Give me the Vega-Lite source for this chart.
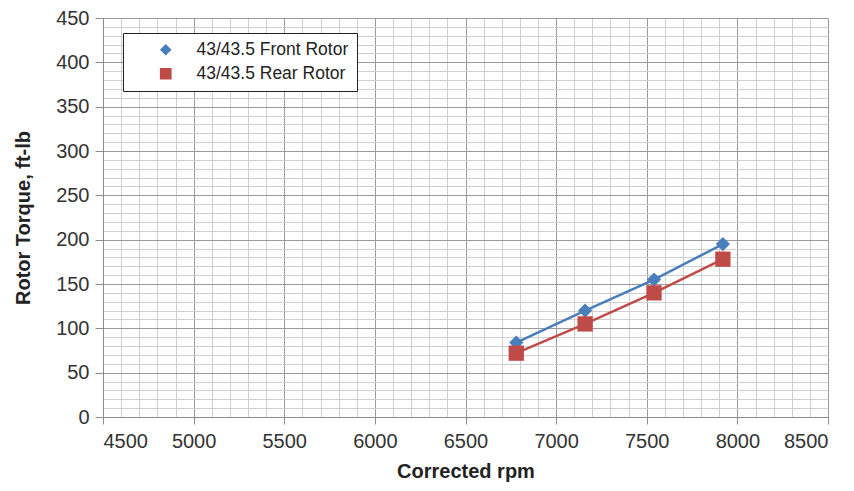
{
  "$schema": "https://vega.github.io/schema/vega-lite/v6.json",
  "width": 725,
  "height": 399,
  "autosize": {"type": "none"},
  "padding": {"left": 103, "top": 18, "right": 26, "bottom": 74},
  "background": "white",
  "config": {
    "view": {"stroke": null},
    "font": "Liberation Sans"
  },
  "data": {
    "values": [
      {"series": "43/43.5 Front Rotor", "rpm": 6780, "torque": 84},
      {"series": "43/43.5 Front Rotor", "rpm": 7160, "torque": 120},
      {"series": "43/43.5 Front Rotor", "rpm": 7540, "torque": 155},
      {"series": "43/43.5 Front Rotor", "rpm": 7920, "torque": 195},
      {"series": "43/43.5 Rear Rotor", "rpm": 6780, "torque": 72},
      {"series": "43/43.5 Rear Rotor", "rpm": 7160, "torque": 105},
      {"series": "43/43.5 Rear Rotor", "rpm": 7540, "torque": 140},
      {"series": "43/43.5 Rear Rotor", "rpm": 7920, "torque": 178}
    ]
  },
  "layer": [
    {
      "mark": {"type": "line", "strokeWidth": 2.5},
      "encoding": {
        "x": {
          "field": "rpm", "type": "quantitative",
          "scale": {"domain": [4500, 8500], "nice": false, "zero": false},
          "axis": {
            "orient": "bottom",
            "values": [4600,4700,4800,4900,5100,5200,5300,5400,5600,5700,5800,5900,6100,6200,6300,6400,6600,6700,6800,6900,7100,7200,7300,7400,7600,7700,7800,7900,8100,8200,8300,8400],
            "grid": true, "gridColor": "#cfcfcf", "gridWidth": 1,
            "labels": false, "ticks": false, "domain": false, "title": null
          }
        },
        "y": {
          "field": "torque", "type": "quantitative",
          "scale": {"domain": [0, 450], "nice": false},
          "axis": {
            "orient": "left",
            "values": [10,20,30,40,60,70,80,90,110,120,130,140,160,170,180,190,210,220,230,240,260,270,280,290,310,320,330,340,360,370,380,390,410,420,430,440],
            "grid": true, "gridColor": "#cfcfcf", "gridWidth": 1,
            "labels": false, "ticks": false, "domain": false, "title": null
          }
        },
        "color": {
          "field": "series", "type": "nominal",
          "scale": {"domain": ["43/43.5 Front Rotor", "43/43.5 Rear Rotor"], "range": ["#4a7ebb", "#be4b48"]}
        }
      }
    },
    {
      "mark": {"type": "point", "filled": true, "opacity": 1, "size": 225},
      "encoding": {
        "x": {
          "field": "rpm", "type": "quantitative",
          "axis": {
            "orient": "bottom",
            "values": [4500,5000,5500,6000,6500,7000,7500,8000,8500],
            "format": "d",
            "grid": true, "gridColor": "#9a9a9a", "gridWidth": 1,
            "domain": true, "domainColor": "#8c8c8c", "domainWidth": 1,
            "ticks": true, "tickColor": "#8c8c8c", "tickSize": 7,
            "labelFont": "Liberation Sans", "labelFontSize": 20, "labelColor": "#333333", "labelPadding": 7,
            "title": "Corrected rpm",
            "titleFont": "Liberation Sans", "titleFontSize": 20, "titleFontWeight": "bold", "titleColor": "#222222", "titlePadding": 10
          }
        },
        "y": {
          "field": "torque", "type": "quantitative",
          "axis": {
            "orient": "left",
            "values": [0,50,100,150,200,250,300,350,400,450],
            "format": "d",
            "grid": true, "gridColor": "#9a9a9a", "gridWidth": 1,
            "domain": true, "domainColor": "#8c8c8c", "domainWidth": 1,
            "ticks": true, "tickColor": "#8c8c8c", "tickSize": 8,
            "labelFont": "Liberation Sans", "labelFontSize": 20, "labelColor": "#333333", "labelPadding": 6,
            "title": "Rotor Torque, ft-lb",
            "titleFont": "Liberation Sans", "titleFontSize": 20, "titleFontWeight": "bold", "titleColor": "#222222", "titlePadding": 22
          }
        },
        "color": {
          "field": "series", "type": "nominal",
          "legend": {
            "orient": "none", "legendX": 20, "legendY": 15,
            "title": null,
            "fillColor": "white", "strokeColor": "#222222",
            "padding": 8, "rowPadding": 5,
            "labelFont": "Liberation Sans", "labelFontSize": 17.5, "labelColor": "#222222",
            "symbolOffset": 26, "labelOffset": 22,
            "labelLimit": 300,
            "encode": {
              "symbols": {
                "shape": {"signal": "datum.value === '43/43.5 Front Rotor' ? 'M-3.47,0H3.47M0,-0.67L0.67,0L0,0.67L-0.67,0Z' : 'M-3.47,0H3.47M-0.87,-0.87H0.87V0.87H-0.87Z'"},
                "fill": {"signal": "datum.value === '43/43.5 Front Rotor' ? '#4a7ebb' : '#be4b48'"},
                "stroke": {"signal": "datum.value === '43/43.5 Front Rotor' ? '#4a7ebb' : '#be4b48'"},
                "strokeWidth": {"value": 2.5}
              }
            }
          }
        },
        "shape": {
          "field": "series", "type": "nominal",
          "scale": {"domain": ["43/43.5 Front Rotor", "43/43.5 Rear Rotor"], "range": ["M0,-0.95L0.95,0L0,0.95L-0.95,0Z", "M-1.02,-1.02H1.02V1.02H-1.02Z"]}
        }
      }
    }
  ],
  "resolve": {"axis": {"x": "independent", "y": "independent"}}
}
